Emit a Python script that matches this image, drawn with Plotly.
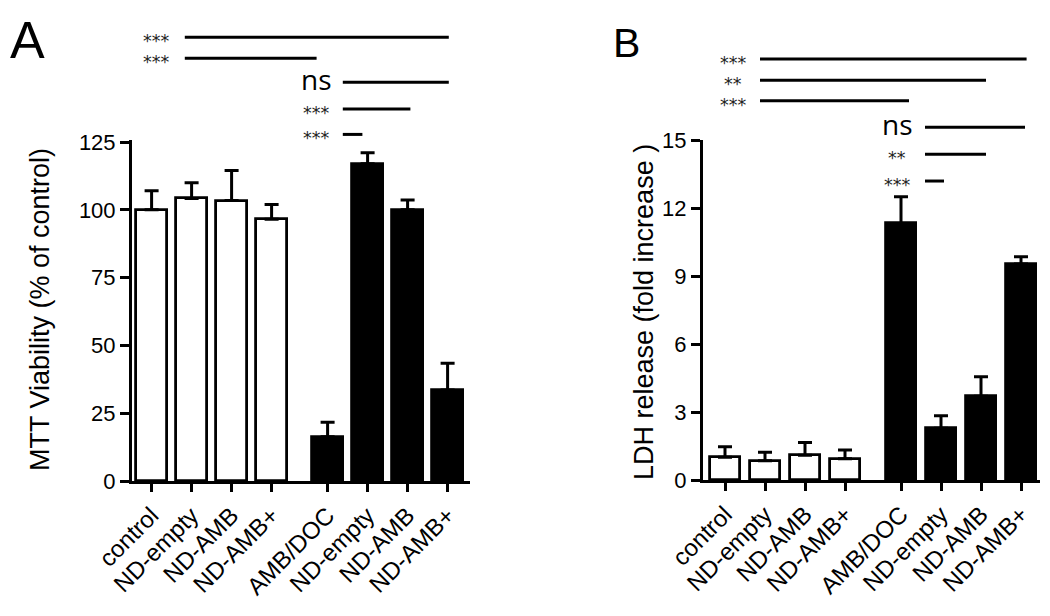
import plotly.graph_objects as go

# page body has an 8px margin; the figure is sized to fill the rest of the window
OFF = 8
W, H = 1050 - OFF, 616 - OFF


def px(p):
    return (p - OFF) / W


def py(p):
    return 1 - (p - OFF) / H


categories = ["control", "ND-empty", "ND-AMB", "ND-AMB+", "AMB/DOC", "ND-empty", "ND-AMB", "ND-AMB+"]
positions = [0, 1, 2, 3, 4.4, 5.4, 6.4, 7.4]
bar_colors = ["white", "white", "white", "white", "black", "black", "black", "black"]

mtt_values = [100, 104.2, 103.4, 96.5, 16.3, 117, 100, 33.6]
mtt_errors = [7, 5.8, 11.1, 5.5, 5.4, 4, 3.6, 9.8]

ldh_values = [1.0, 0.85, 1.09, 0.94, 11.32, 2.28, 3.7, 9.53]
ldh_errors = [0.47, 0.37, 0.56, 0.38, 1.18, 0.56, 0.86, 0.32]

# significance brackets (label, start x, end x, label centre x, level in y units)
A_sig_labels = ["***", "***", "ns", "***", "***"]
A_sig_x0 = [0.83, 0.83, 4.78, 4.78, 4.78]
A_sig_x1 = [7.43, 4.125, 7.43, 6.47, 5.27]
A_sig_lx = [0.13, 0.13, 4.13, 4.13, 4.13]
A_sig_lvl = [163.6, 155.9, 147.0, 137.2, 127.8]

B_sig_labels = ["***", "**", "***", "ns", "**", "***"]
B_sig_x0 = [0.875, 0.875, 0.875, 5.0, 5.0, 5.0]
B_sig_x1 = [7.54, 6.525, 4.6, 7.5, 6.525, 5.475]
B_sig_lx = [0.2, 0.2, 0.2, 4.3, 4.3, 4.3]
B_sig_lvl = [18.57, 17.64, 16.73, 15.56, 14.37, 13.19]

# layout (window pixels)
A_dom_x = [px(132), px(470)]
A_dom_y = [py(481), py(140)]
A_range_x = [-0.49, 7.96]
A_range_y = [0, 125.74]

B_dom_x = [px(703), px(1040)]
B_dom_y = [py(480), py(140)]
B_range_x = [-0.55, 7.875]
B_range_y = [0, 15.0]

ARIAL = "Liberation Sans, Arial, sans-serif"
XTICKFONT = dict(family=ARIAL, size=24, color="black")
YTICKFONT = dict(family=ARIAL, size=22, color="black")
SIGFONT = "Open Sans, sans-serif"
STARFONT = "DejaVu Sans, sans-serif"

fig = go.Figure()


def add_bars(vals, errs, xa, ya):
    fig.add_trace(go.Bar(
        x=positions, y=vals, width=0.76,
        marker=dict(color=bar_colors, line=dict(color="black", width=2.8)),
        error_y=dict(type="data", symmetric=False, array=errs,
                     arrayminus=[0] * len(errs), color="black",
                     thickness=3, width=7),
        xaxis=xa, yaxis=ya, showlegend=False,
    ))


add_bars(mtt_values, mtt_errors, "x", "y")
add_bars(ldh_values, ldh_errors, "x2", "y2")

axis_common = dict(showline=True, linewidth=3, linecolor="black", ticks="outside",
                   tickwidth=3, tickcolor="black", showgrid=False, zeroline=False,
                   automargin=False)

fig.update_layout(
    width=W, height=H,
    margin=dict(l=0, r=0, t=0, b=0),
    paper_bgcolor="white", plot_bgcolor="white",
    bargap=0,
    xaxis=dict(domain=A_dom_x, range=A_range_x, tickvals=positions, ticktext=categories,
               tickangle=-45, ticklen=8, anchor="y", tickfont=XTICKFONT, **axis_common),
    yaxis=dict(domain=A_dom_y, range=A_range_y, tickvals=[0, 25, 50, 75, 100, 125],
               ticklen=9, anchor="x", tickfont=YTICKFONT, **axis_common),
    xaxis2=dict(domain=B_dom_x, range=B_range_x, tickvals=positions, ticktext=categories,
                tickangle=-45, ticklen=8, anchor="y2", tickfont=XTICKFONT, **axis_common),
    yaxis2=dict(domain=B_dom_y, range=B_range_y, tickvals=[0, 3, 6, 9, 12, 15],
                ticklen=9, anchor="x2", tickfont=YTICKFONT, **axis_common),
)


def to_paper(v, rng, dom):
    return dom[0] + (v - rng[0]) / (rng[1] - rng[0]) * (dom[1] - dom[0])


shapes = []
annotations = []


def add_sig(labels, x0s, x1s, lxs, lvls, xref, rng, dom):
    for lab, x0, x1, lx, lv in zip(labels, x0s, x1s, lxs, lvls):
        yp = to_paper(lv, rng, dom)
        shapes.append(dict(type="line", xref=xref, yref="paper", x0=x0, x1=x1,
                           y0=yp, y1=yp, line=dict(color="black", width=3)))
        if lab == "ns":
            annotations.append(dict(text=lab, xref=xref, yref="paper", x=lx, y=yp,
                                    xanchor="center", yanchor="middle", showarrow=False,
                                    yshift=3,
                                    font=dict(family=SIGFONT, size=28, color="black")))
        else:
            annotations.append(dict(text=lab, xref=xref, yref="paper", x=lx, y=yp,
                                    xanchor="center", yanchor="middle", showarrow=False,
                                    yshift=-4,
                                    font=dict(family=STARFONT, size=17.5, color="#222222")))


add_sig(A_sig_labels, A_sig_x0, A_sig_x1, A_sig_lx, A_sig_lvl, "x", A_range_y, A_dom_y)
add_sig(B_sig_labels, B_sig_x0, B_sig_x1, B_sig_lx, B_sig_lvl, "x2", B_range_y, B_dom_y)

# axis titles
annotations.append(dict(text="MTT Viability (% of control)", xref="paper", yref="paper",
                        x=px(40), y=py(310), textangle=-90, showarrow=False,
                        xanchor="center", yanchor="middle",
                        font=dict(family=ARIAL, size=27, color="black")))
annotations.append(dict(text="LDH release (fold increase )", xref="paper", yref="paper",
                        x=px(644), y=py(312), textangle=-90, showarrow=False,
                        xanchor="center", yanchor="middle",
                        font=dict(family=ARIAL, size=27, color="black")))

# panel letters
annotations.append(dict(text="A", xref="paper", yref="paper", x=px(27), y=py(40),
                        showarrow=False, xanchor="center", yanchor="middle",
                        font=dict(family=ARIAL, size=52, color="black")))
annotations.append(dict(text="B", xref="paper", yref="paper", x=px(626), y=py(43),
                        showarrow=False, xanchor="center", yanchor="middle",
                        font=dict(family=ARIAL, size=41, color="black")))

fig.update_layout(shapes=shapes, annotations=annotations)

fig.write_html("out.html")
